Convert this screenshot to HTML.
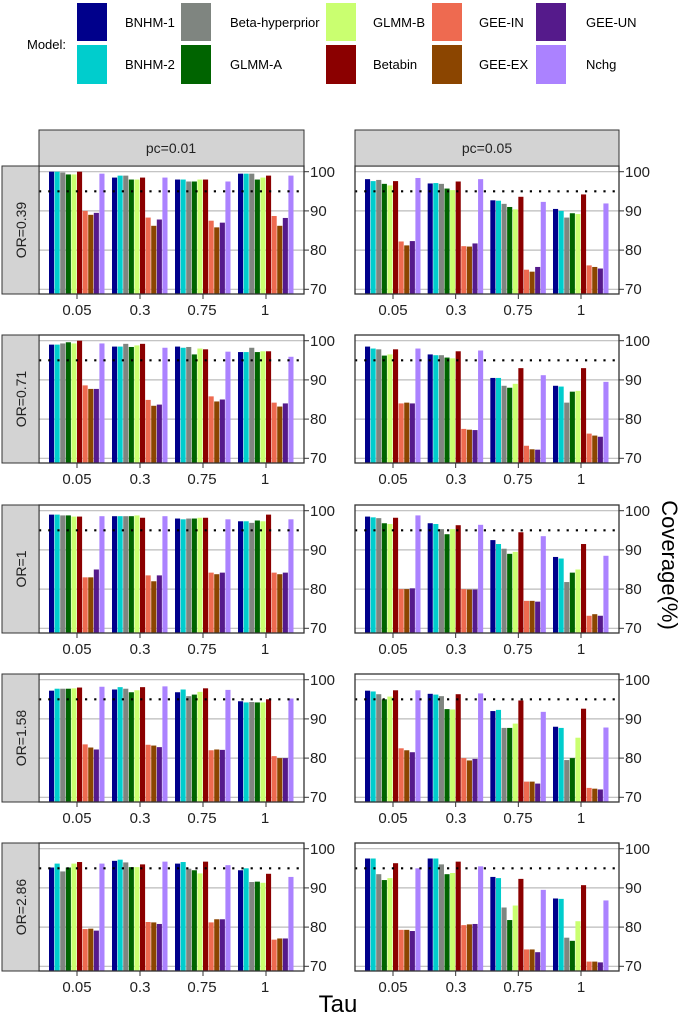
<!DOCTYPE html>
<html><head><meta charset="utf-8"><style>
body{margin:0;background:#fff;}
svg{display:block;font-family:"Liberation Sans",Arial,sans-serif;}
</style></head><body>
<svg id="s" width="685" height="1027" viewBox="0 0 685 1027" xmlns="http://www.w3.org/2000/svg">
<g id="bars"></g>
<g font-size="13" fill="#000">
<text x="27" y="49">Model:</text>
<rect x="77" y="3" width="30" height="38" fill="#00008B"/><text x="125" y="27">BNHM-1</text>
<rect x="77" y="45" width="30" height="39" fill="#00CDCD"/><text x="125" y="69">BNHM-2</text>
<rect x="181" y="3" width="30" height="38" fill="#7F8580"/><text x="230" y="27">Beta-hyperprior</text>
<rect x="181" y="45" width="30" height="39" fill="#006400"/><text x="230" y="69">GLMM-A</text>
<rect x="326" y="3" width="30" height="38" fill="#CAFF70"/><text x="373" y="27">GLMM-B</text>
<rect x="326" y="45" width="30" height="39" fill="#8B0000"/><text x="373" y="69">Betabin</text>
<rect x="432" y="3" width="30" height="38" fill="#EE6A50"/><text x="479" y="27">GEE-IN</text>
<rect x="432" y="45" width="30" height="39" fill="#8B4500"/><text x="479" y="69">GEE-EX</text>
<rect x="536" y="3" width="30" height="38" fill="#551A8B"/><text x="586" y="27">GEE-UN</text>
<rect x="536" y="45" width="30" height="39" fill="#AB82FF"/><text x="586" y="69">Nchg</text>
</g>
<g font-size="14" fill="#222" text-anchor="middle">
<rect x="39" y="130" width="265" height="36" fill="#D3D3D3" stroke="#333"/>
<text x="171" y="153">pc=0.01</text>
<rect x="355" y="130" width="264" height="36" fill="#D3D3D3" stroke="#333"/>
<text x="487" y="153">pc=0.05</text>
</g>
<g font-size="14" fill="#222" text-anchor="middle">
<rect x="2" y="166" width="37" height="128" fill="#D3D3D3" stroke="#333"/>
<text transform="translate(26,230) rotate(-90)">OR=0.39</text>
<rect x="2" y="335" width="37" height="128" fill="#D3D3D3" stroke="#333"/>
<text transform="translate(26,399) rotate(-90)">OR=0.71</text>
<rect x="2" y="505" width="37" height="128" fill="#D3D3D3" stroke="#333"/>
<text transform="translate(26,569) rotate(-90)">OR=1</text>
<rect x="2" y="674" width="37" height="128" fill="#D3D3D3" stroke="#333"/>
<text transform="translate(26,738) rotate(-90)">OR=1.58</text>
<rect x="2" y="843" width="37" height="128" fill="#D3D3D3" stroke="#333"/>
<text transform="translate(26,907) rotate(-90)">OR=2.86</text>
</g>
<g font-size="15" fill="#222">
<g transform="translate(0,0)">
<text x="310" y="177">100</text><text x="310" y="216">90</text><text x="310" y="255">80</text><text x="310" y="294">70</text>
<text x="625" y="177">100</text><text x="625" y="216">90</text><text x="625" y="255">80</text><text x="625" y="294">70</text>
<g text-anchor="middle"><text x="77" y="315">0.05</text><text x="140" y="315">0.3</text><text x="202" y="315">0.75</text><text x="265" y="315">1</text>
<text x="393" y="315">0.05</text><text x="456" y="315">0.3</text><text x="518" y="315">0.75</text><text x="581" y="315">1</text></g>
</g>
<g transform="translate(0,169)">
<text x="310" y="177">100</text><text x="310" y="216">90</text><text x="310" y="255">80</text><text x="310" y="294">70</text>
<text x="625" y="177">100</text><text x="625" y="216">90</text><text x="625" y="255">80</text><text x="625" y="294">70</text>
<g text-anchor="middle"><text x="77" y="315">0.05</text><text x="140" y="315">0.3</text><text x="202" y="315">0.75</text><text x="265" y="315">1</text>
<text x="393" y="315">0.05</text><text x="456" y="315">0.3</text><text x="518" y="315">0.75</text><text x="581" y="315">1</text></g>
</g>
<g transform="translate(0,339)">
<text x="310" y="177">100</text><text x="310" y="216">90</text><text x="310" y="255">80</text><text x="310" y="294">70</text>
<text x="625" y="177">100</text><text x="625" y="216">90</text><text x="625" y="255">80</text><text x="625" y="294">70</text>
<g text-anchor="middle"><text x="77" y="315">0.05</text><text x="140" y="315">0.3</text><text x="202" y="315">0.75</text><text x="265" y="315">1</text>
<text x="393" y="315">0.05</text><text x="456" y="315">0.3</text><text x="518" y="315">0.75</text><text x="581" y="315">1</text></g>
</g>
<g transform="translate(0,508)">
<text x="310" y="177">100</text><text x="310" y="216">90</text><text x="310" y="255">80</text><text x="310" y="294">70</text>
<text x="625" y="177">100</text><text x="625" y="216">90</text><text x="625" y="255">80</text><text x="625" y="294">70</text>
<g text-anchor="middle"><text x="77" y="315">0.05</text><text x="140" y="315">0.3</text><text x="202" y="315">0.75</text><text x="265" y="315">1</text>
<text x="393" y="315">0.05</text><text x="456" y="315">0.3</text><text x="518" y="315">0.75</text><text x="581" y="315">1</text></g>
</g>
<g transform="translate(0,677)">
<text x="310" y="177">100</text><text x="310" y="216">90</text><text x="310" y="255">80</text><text x="310" y="294">70</text>
<text x="625" y="177">100</text><text x="625" y="216">90</text><text x="625" y="255">80</text><text x="625" y="294">70</text>
<g text-anchor="middle"><text x="77" y="315">0.05</text><text x="140" y="315">0.3</text><text x="202" y="315">0.75</text><text x="265" y="315">1</text>
<text x="393" y="315">0.05</text><text x="456" y="315">0.3</text><text x="518" y="315">0.75</text><text x="581" y="315">1</text></g>
</g>
</g>
<text x="338" y="1012" font-size="24" text-anchor="middle" fill="#000">Tau</text>
<text transform="translate(662,565) rotate(90)" font-size="22" text-anchor="middle" fill="#000">Coverage(%)</text>
</svg>
<script>
var cols=["#00008B","#00CDCD","#7F8580","#006400","#CAFF70","#8B0000","#EE6A50","#8B4500","#551A8B","#AB82FF"];
var D=[
[[[100,100,99.8,99.3,99.3,100,90,89,89.5,99.5],[98.5,99,99,98,98,98.5,88.3,86.2,87.8,98.5],[98,98,97.5,97.5,98,98,87.5,85.8,87,97.5],[99.5,99.5,99.5,98,98.5,99,88.7,86.2,88.2,99]],
 [[98.1,97.6,97.9,96.9,96.5,97.6,82.2,81.2,82.3,98.4],[97,97.1,96.9,95.7,95.3,97.5,81,80.9,81.7,98.1],[92.7,92.6,91.8,91,90.4,93.6,75,74.5,75.7,92.3],[90.5,90,88.3,89.4,89.2,94.2,76.1,75.7,75.3,91.9]]],
[[[99,99,99.3,99.6,99.3,100,88.6,87.7,87.7,99.3],[98.5,98.5,99.2,98.4,98.8,99.2,84.9,83.4,83.7,98.2],[98.5,98.2,98.4,96.5,98,97.8,85.8,84.5,85,97.2],[97.1,97.1,98.2,97.1,97.3,97.3,84.2,83.2,84,95.9]],
 [[98.5,98,97.8,96.2,96.5,97.8,84,84.2,84,98],[96.5,96.3,96.3,95.7,95.5,97.3,77.5,77.3,77.2,97.5],[90.5,90.5,88.5,88,89,93,73.2,72.3,72.2,91.2],[88.5,88.3,84.2,87,87.2,93,76.3,75.8,75.5,89.5]]],
[[[99,99,98.8,98.8,98.5,98.5,83,83,85,98.6],[98.6,98.6,98.6,98.6,98.8,98.2,83.5,82,83.5,98.6],[98,97.8,98,98,98.2,98.2,84.2,83.8,84.2,97.8],[97.3,97.3,96.9,97.5,97.3,99,84.2,83.8,84.2,97.8]],
 [[98.5,98.3,98.1,96.8,96.6,98.2,80,80,80.2,98.8],[96.8,96.6,95.3,94,95.3,96.3,80,79.9,79.9,96.4],[92.5,91.5,90.3,89,89.5,94.5,77,77,76.8,93.5],[88.2,87.8,81.8,84.2,85,91.5,73.2,73.6,73.2,88.5]]],
[[[97.2,97.7,97.7,97.7,97.8,98,83.5,82.7,82.2,98.2],[97.5,98.1,97.7,96.8,97.3,98.1,83.4,83.2,82.8,98.3],[96.8,97.5,95.8,96.2,96.9,97.8,82,82.2,82.1,97.4],[94.5,94.2,94.3,94.2,94.2,95,80.5,80,80,95.2]],
 [[97.2,97,96.3,95,95.7,97.3,82.5,82,81.5,97.3],[96.4,96.2,95.8,92.5,92.4,96.3,80,79.4,79.8,96.5],[92,92.3,87.7,87.7,88.8,94.7,74,74,73.5,91.8],[88,87.7,79.5,80,85.2,92.6,72.4,72.2,72,87.8]]],
[[[95.2,96.2,94.2,95.2,96.2,96.6,79.5,79.6,79.1,96.2],[96.9,97.2,96.5,95.3,95.3,96,81.3,81.2,80.8,96.7],[96.2,96.6,94.9,94.5,93.7,96.7,81.2,82,82,95.8],[94.5,95,91.5,91.6,91.3,93.6,76.8,77.1,77.1,92.8]],
 [[97.5,97.5,93.5,92,92.5,96.3,79.3,79.3,79,95],[97.5,97.5,96,93.5,93.8,96.7,80.5,80.7,80.8,95.5],[92.8,92.5,85,81.8,85.5,92.3,74.3,74.3,73.6,89.5],[87.3,87.2,77.3,76.5,81.5,90.7,71.2,71.2,71,86.8]]]
];
var tops=[166,335,505,674,843];
var px=[[39,304],[355,619]];
var h="";
for(var r=0;r<5;r++){
 var T=tops[r],B=T+128;
 var Y=function(v){return T+5.7+(100-v)*3.92;};
 for(var c=0;c<2;c++){
  var L=px[c][0],R=px[c][1];
  h+='<rect x="'+L+'" y="'+T+'" width="'+(R-L)+'" height="128" fill="#fff"/>';
  [70,80,90,100].forEach(function(v){h+='<line x1="'+L+'" x2="'+R+'" y1="'+Y(v)+'" y2="'+Y(v)+'" stroke="#bbb" stroke-width="1.2"/>';
   h+='<line x1="'+R+'" x2="'+(R+5)+'" y1="'+Y(v)+'" y2="'+Y(v)+'" stroke="#333"/>';});
  for(var g=0;g<4;g++){
   var cx=L+38+g*((R-L-76)/3);
   for(var b=0;b<10;b++){
    var v=D[r][c][g][b],y=Y(v);
    h+='<rect x="'+(cx-28+b*5.6)+'" y="'+y+'" width="5.1" height="'+(B-y)+'" fill="'+cols[b]+'"/>';
   }
   h+='<line x1="'+cx+'" x2="'+cx+'" y1="'+B+'" y2="'+(B+5)+'" stroke="#333"/>';
  }
  h+='<line x1="'+L+'" x2="'+R+'" y1="'+Y(95)+'" y2="'+Y(95)+'" stroke="#000" stroke-width="2.2" stroke-dasharray="2.2,7"/>';
  h+='<rect x="'+L+'" y="'+T+'" width="'+(R-L)+'" height="128" fill="none" stroke="#333" stroke-width="1.3"/>';
 }
}
document.getElementById("bars").innerHTML=h;
</script>
</body></html>
